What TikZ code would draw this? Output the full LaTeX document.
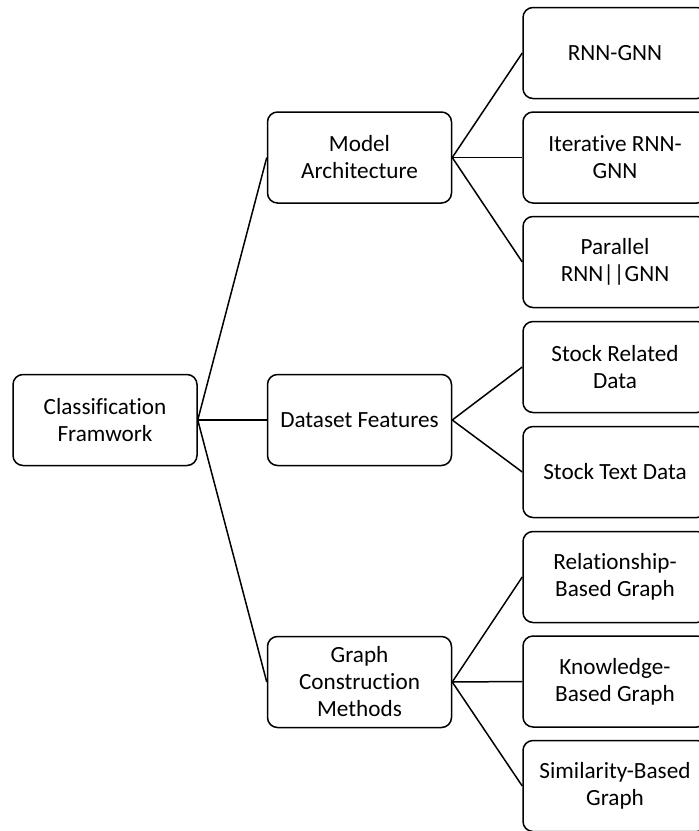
\documentclass[tikz,border=0pt]{standalone}
\usepackage{fontspec}
\setmainfont{Carlito}[Ligatures=NoCommon]
\usetikzlibrary{positioning}

\tikzset{
	box/.style={draw, line width=1.5pt, rounded corners=10pt, minimum width=184pt, minimum height=91pt,
		align=center, inner sep=0pt, font=\fontsize{23.2}{27}\selectfont},
	link/.style={line width=1.5pt}
}

\begin{document}
\begin{tikzpicture}[x=1pt, y=-1pt]
	
	%//page is 699 x 831, right column runs off the edge
	\clip (0,0) rectangle (699,831);
	\useasboundingbox (0,0) rectangle (699,831);
	
	\node [box] (root) at (105,420) {Classification\\Framwork};
	
	\node [box] (model) at (359.5,157.5) {Model\\Architecture};
	\node [box] (data) at (359.5,420) {Dataset Features};
	\node [box] (graph) at (359.5,682) {Graph\\Construction\\Methods};
	
	\node [box] (rg) at (615,53) {RNN-GNN};
	\node [box] (irg) at (615,157.5) {Iterative RNN-\\GNN};
	\node [box] (prg) at (615,262) {Parallel\\RNN||GNN};
	\node [box] (srd) at (615,367) {Stock Related\\Data};
	\node [box] (std) at (615,472) {Stock Text Data};
	\node [box] (rbg) at (615,577) {Relationship-\\Based Graph};
	\node [box] (kbg) at (615,681.5) {Knowledge-\\Based Graph};
	\node [box] (sbg) at (615,786) {Similarity-Based\\Graph};
	
	\foreach \m in {model, data, graph}
	\draw [link] (root.east) -- (\m.west);
	
	\foreach \r in {rg, irg, prg}
	\draw [link] (model.east) -- (\r.west);
	
	\foreach \r in {srd, std}
	\draw [link] (data.east) -- (\r.west);
	
	\foreach \r in {rbg, kbg, sbg}
	\draw [link] (graph.east) -- (\r.west);
	
\end{tikzpicture}
\end{document}
